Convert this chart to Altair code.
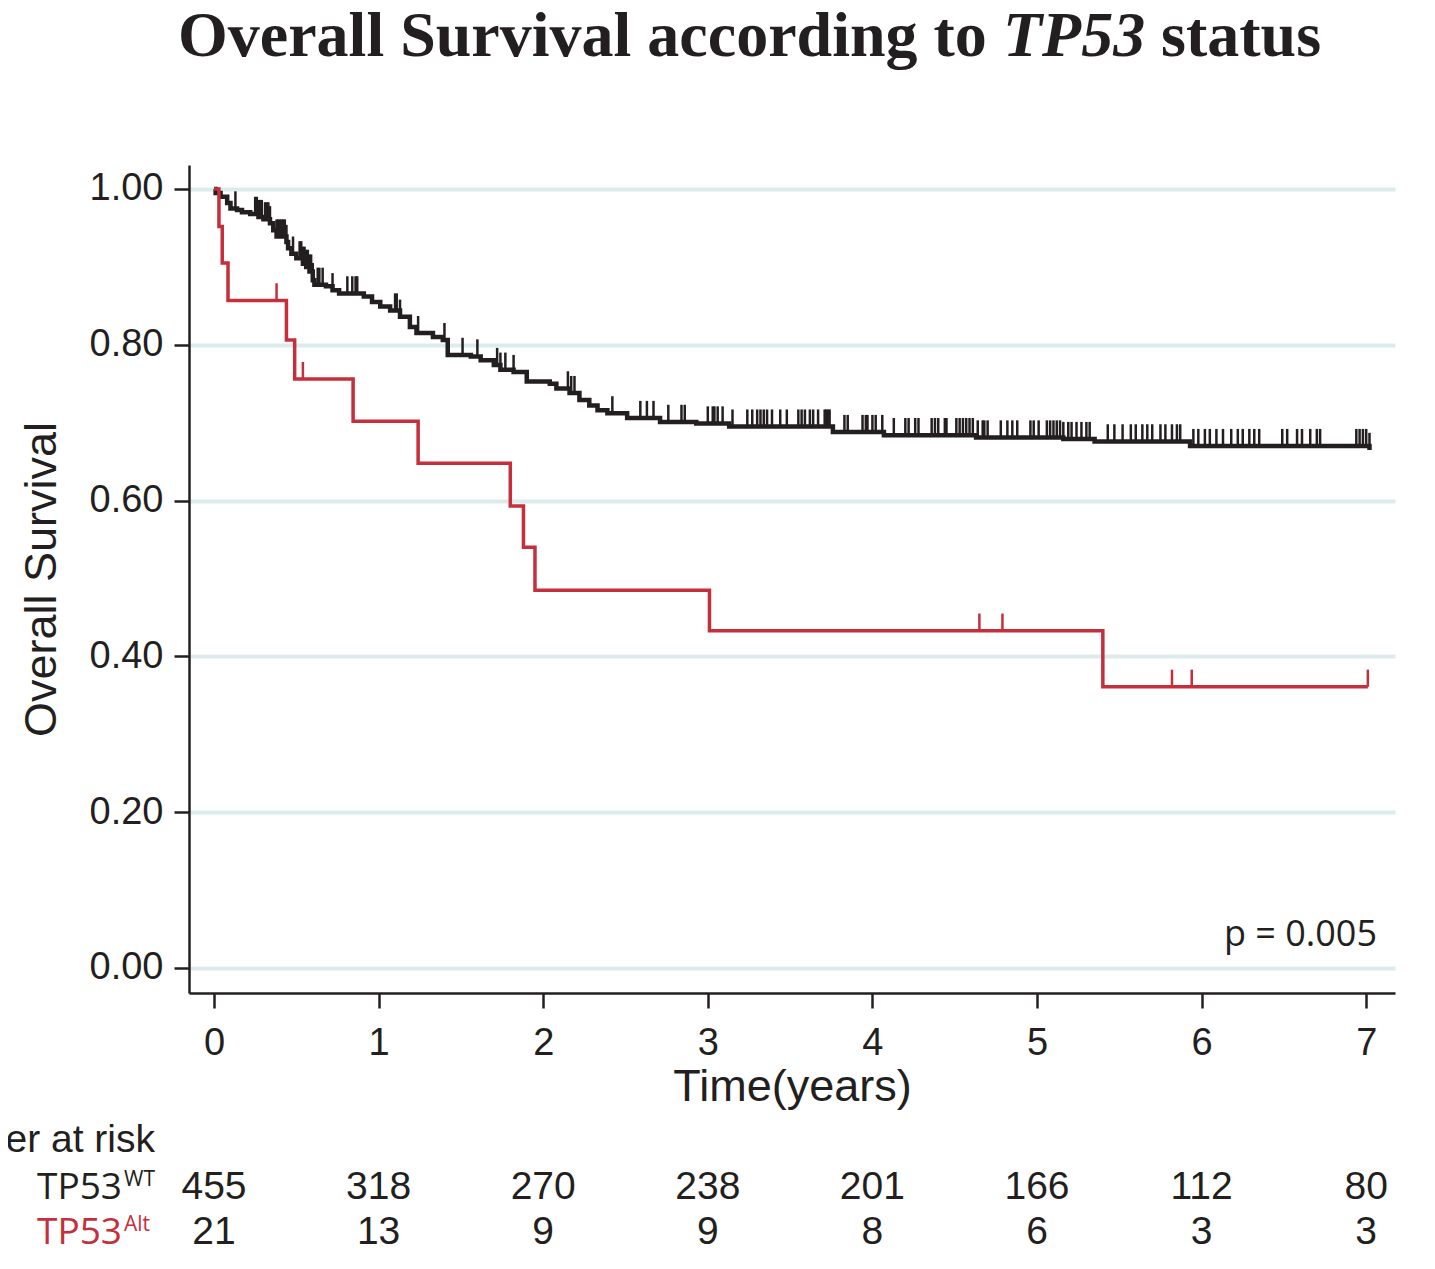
import altair as alt
import pandas as pd

# ---------------- data ----------------
# TP53 wild-type Kaplan-Meier steps: time (years) where the curve steps, survival after the step
wt_time = [0.00, 0.01, 0.04, 0.08, 0.10, 0.14, 0.17, 0.22, 0.27, 0.30,
           0.34, 0.36, 0.38, 0.44, 0.45, 0.47, 0.50, 0.54, 0.56, 0.58,
           0.60, 0.61, 0.68, 0.72, 0.76, 0.91, 0.96, 1.01, 1.07, 1.13,
           1.19, 1.23, 1.33, 1.39, 1.42, 1.56, 1.62, 1.70, 1.74, 1.82,
           1.90, 2.04, 2.08, 2.16, 2.22, 2.28, 2.33, 2.39, 2.51, 2.71,
           2.93, 3.13, 3.76, 4.07, 4.63, 5.16, 5.35, 5.93, 7.02]
wt_surv = [1.000, 0.995, 0.990, 0.982, 0.975, 0.973, 0.970, 0.968, 0.964, 0.961,
           0.956, 0.947, 0.939, 0.932, 0.924, 0.917, 0.911, 0.904, 0.900, 0.894,
           0.883, 0.877, 0.875, 0.870, 0.866, 0.862, 0.855, 0.849, 0.844, 0.836,
           0.823, 0.815, 0.810, 0.806, 0.787, 0.785, 0.780, 0.774, 0.768, 0.765,
           0.753, 0.750, 0.744, 0.738, 0.729, 0.722, 0.716, 0.712, 0.706, 0.701,
           0.699, 0.695, 0.688, 0.684, 0.681, 0.679, 0.676, 0.670, 0.665]
wt_censor = [0.13, 0.25, 0.26, 0.27, 0.28, 0.29, 0.31, 0.32, 0.33, 0.34,
             0.38, 0.39, 0.40, 0.41, 0.42, 0.43, 0.44, 0.48, 0.52, 0.53,
             0.54, 0.55, 0.56, 0.57, 0.58, 0.59, 0.60, 0.63, 0.64, 0.66,
             0.72, 0.81, 0.84, 0.86, 0.87, 1.10, 1.11, 1.13, 1.24, 1.40,
             1.51, 1.60, 1.72, 1.74, 1.77, 1.82, 2.15, 2.17, 2.19, 2.42,
             2.59, 2.63, 2.67, 2.76, 2.84, 2.86, 3.00, 3.03, 3.04, 3.06,
             3.09, 3.15, 3.24, 3.27, 3.30, 3.32, 3.34, 3.36, 3.39, 3.44,
             3.48, 3.55, 3.57, 3.59, 3.62, 3.64, 3.67, 3.71, 3.72, 3.73,
             3.74, 3.83, 3.85, 3.94, 3.96, 3.97, 4.00, 4.02, 4.06, 4.13,
             4.20, 4.22, 4.26, 4.28, 4.36, 4.38, 4.40, 4.44, 4.45, 4.51,
             4.53, 4.55, 4.57, 4.59, 4.61, 4.64, 4.67, 4.68, 4.70, 4.78,
             4.82, 4.85, 4.88, 4.96, 4.98, 5.01, 5.06, 5.08, 5.10, 5.12,
             5.14, 5.16, 5.19, 5.21, 5.24, 5.27, 5.30, 5.32, 5.43, 5.47,
             5.52, 5.57, 5.60, 5.64, 5.67, 5.70, 5.75, 5.78, 5.82, 5.85,
             5.87, 5.95, 5.98, 6.02, 6.05, 6.09, 6.13, 6.18, 6.22, 6.25,
             6.29, 6.32, 6.35, 6.49, 6.52, 6.58, 6.61, 6.66, 6.70, 6.72,
             6.94, 6.96, 6.98, 7.00, 7.02]

# TP53 altered Kaplan-Meier steps
alt_time = [0.00, 0.03, 0.05, 0.085, 0.44, 0.49, 0.845, 1.24, 1.80, 1.88, 1.95, 3.01, 5.40, 7.01]
alt_surv = [1.000, 0.952, 0.905, 0.857, 0.806, 0.756, 0.702, 0.648, 0.593, 0.540, 0.485, 0.433, 0.361, 0.361]
alt_censor = [0.38, 0.54, 4.65, 4.79, 5.82, 5.94, 7.01]

risk_years = [0, 1, 2, 3, 4, 5, 6, 7]
risk_wt = [455, 318, 270, 238, 201, 166, 112, 80]
risk_alt = [21, 13, 9, 9, 8, 6, 3, 3]

x_ticks = [0, 1, 2, 3, 4, 5, 6, 7]
y_ticks = [0.0, 0.2, 0.4, 0.6, 0.8, 1.0]

title_main = "Overall Survival according to"
title_gene = "TP53"
title_end = "status"
x_title = "Time(years)"
y_title = "Overall Survival"
p_label = "p = 0.005"
risk_title = "Number at risk"
row_gene = "TP53"
row_wt_sup = "WT"
row_alt_sup = "Alt"

# ---------------- styles ----------------
INK = "#231f20"
RED = "#c52f3b"
SANS = "Liberation Sans"
ALTSANS = "Open Sans"
SERIF = "Liberation Serif"
TICK_H = 0.022  # censor tick height in survival units


def surv_at(times, survs, t):
    s = survs[0]
    for ti, si in zip(times, survs):
        if ti <= t:
            s = si
        else:
            break
    return s


wt_df = pd.DataFrame({"time": wt_time, "surv": wt_surv})
alt_df = pd.DataFrame({"time": alt_time, "surv": alt_surv})
wt_c = pd.DataFrame({"time": wt_censor,
                     "surv": [surv_at(wt_time, wt_surv, t) for t in wt_censor]})
wt_c["top"] = wt_c["surv"] + TICK_H
alt_c = pd.DataFrame({"time": alt_censor,
                      "surv": [surv_at(alt_time, alt_surv, t) for t in alt_censor]})
alt_c["top"] = alt_c["surv"] + TICK_H
risk_wt_df = pd.DataFrame({"time": risk_years, "n": risk_wt})
risk_alt_df = pd.DataFrame({"time": risk_years, "n": risk_alt})

xscale = alt.Scale(domain=[-0.152, 7.175], nice=False, zero=False)
yscale = alt.Scale(domain=[-0.0321, 1.0308], nice=False, zero=False)

xaxis = alt.Axis(values=x_ticks, format="d", title=x_title, grid=False,
                 labelFont=SANS, labelFontSize=38, labelColor=INK, labelPadding=16,
                 labelFlush=False, labelOverlap=False,
                 tickSize=15, tickWidth=2.5, tickColor=INK,
                 domainColor=INK, domainWidth=2.5,
                 titleFont=SANS, titleFontSize=45, titleFontWeight="normal",
                 titleColor=INK, titlePadding=2)
yaxis = alt.Axis(values=y_ticks, format=".2f", title=y_title, grid=True,
                 gridColor="#dcebeb", gridWidth=4,
                 labelFont=SANS, labelFontSize=38, labelColor=INK, labelPadding=11,
                 labelOverlap=False,
                 tickSize=15, tickWidth=2.5, tickColor=INK,
                 domainColor=INK, domainWidth=2.5,
                 titleFont=SANS, titleFontSize=45, titleFontWeight="normal",
                 titleColor=INK, titlePadding=25)

X = alt.X("time:Q", scale=xscale, axis=xaxis)
Y = alt.Y("surv:Q", scale=yscale, axis=yaxis)

wt_line = alt.Chart(wt_df).mark_line(interpolate="step-after", color=INK, strokeWidth=4.5).encode(x=X, y=Y)
alt_line = alt.Chart(alt_df).mark_line(interpolate="step-after", color=RED, strokeWidth=3.5).encode(x=X, y=Y)
wt_ticks = alt.Chart(wt_c).mark_rule(color=INK, strokeWidth=2.5).encode(x=X, y=Y, y2="top:Q")
alt_ticks = alt.Chart(alt_c).mark_rule(color=RED, strokeWidth=2.5).encode(x=X, y=Y, y2="top:Q")


def label(text, x, y, size, font, color=INK, align="left", weight="normal", style="normal"):
    return alt.Chart(pd.DataFrame({"txt": [text]})).mark_text(
        align=align, baseline="alphabetic", font=font, fontSize=size,
        fontWeight=weight, fontStyle=style, color=color
    ).encode(text="txt:N", x=alt.value(x), y=alt.value(y))


risk_wt_text = alt.Chart(risk_wt_df).mark_text(
    align="center", baseline="alphabetic", font=SANS, fontSize=39, color=INK
).encode(x=X, y=alt.value(1034), text="n:Q")
risk_alt_text = alt.Chart(risk_alt_df).mark_text(
    align="center", baseline="alphabetic", font=SANS, fontSize=39, color=INK
).encode(x=X, y=alt.value(1079), text="n:Q")

layers = [
    wt_line, wt_ticks, alt_line, alt_ticks,
    label(title_main, -11, -109, 64, SERIF, weight="bold"),
    label(title_gene, 814, -109, 64, SERIF, weight="bold", style="italic"),
    label(title_end, 972, -109, 64, SERIF, weight="bold"),
    label(p_label, 1188, 781, 36, ALTSANS, align="right"),
    label(risk_title, -34, 987, 39, SANS, align="right"),
    label(row_gene, -152, 1034, 37, ALTSANS),
    label(row_wt_sup, -65, 1021, 21, ALTSANS),
    label(row_gene, -152, 1079, 37, ALTSANS, color=RED),
    label(row_alt_sup, -65, 1066, 21, ALTSANS, color=RED),
    risk_wt_text, risk_alt_text,
]

chart = alt.layer(*layers).properties(
    width=1206, height=828,
    autosize=alt.AutoSizeParams(type="none"),
    padding={"left": 181, "top": 157, "right": 29, "bottom": 268},
    background="white",
).configure_view(strokeWidth=0)

chart.save("out.html", embed_options={"renderer": "svg", "actions": False})
